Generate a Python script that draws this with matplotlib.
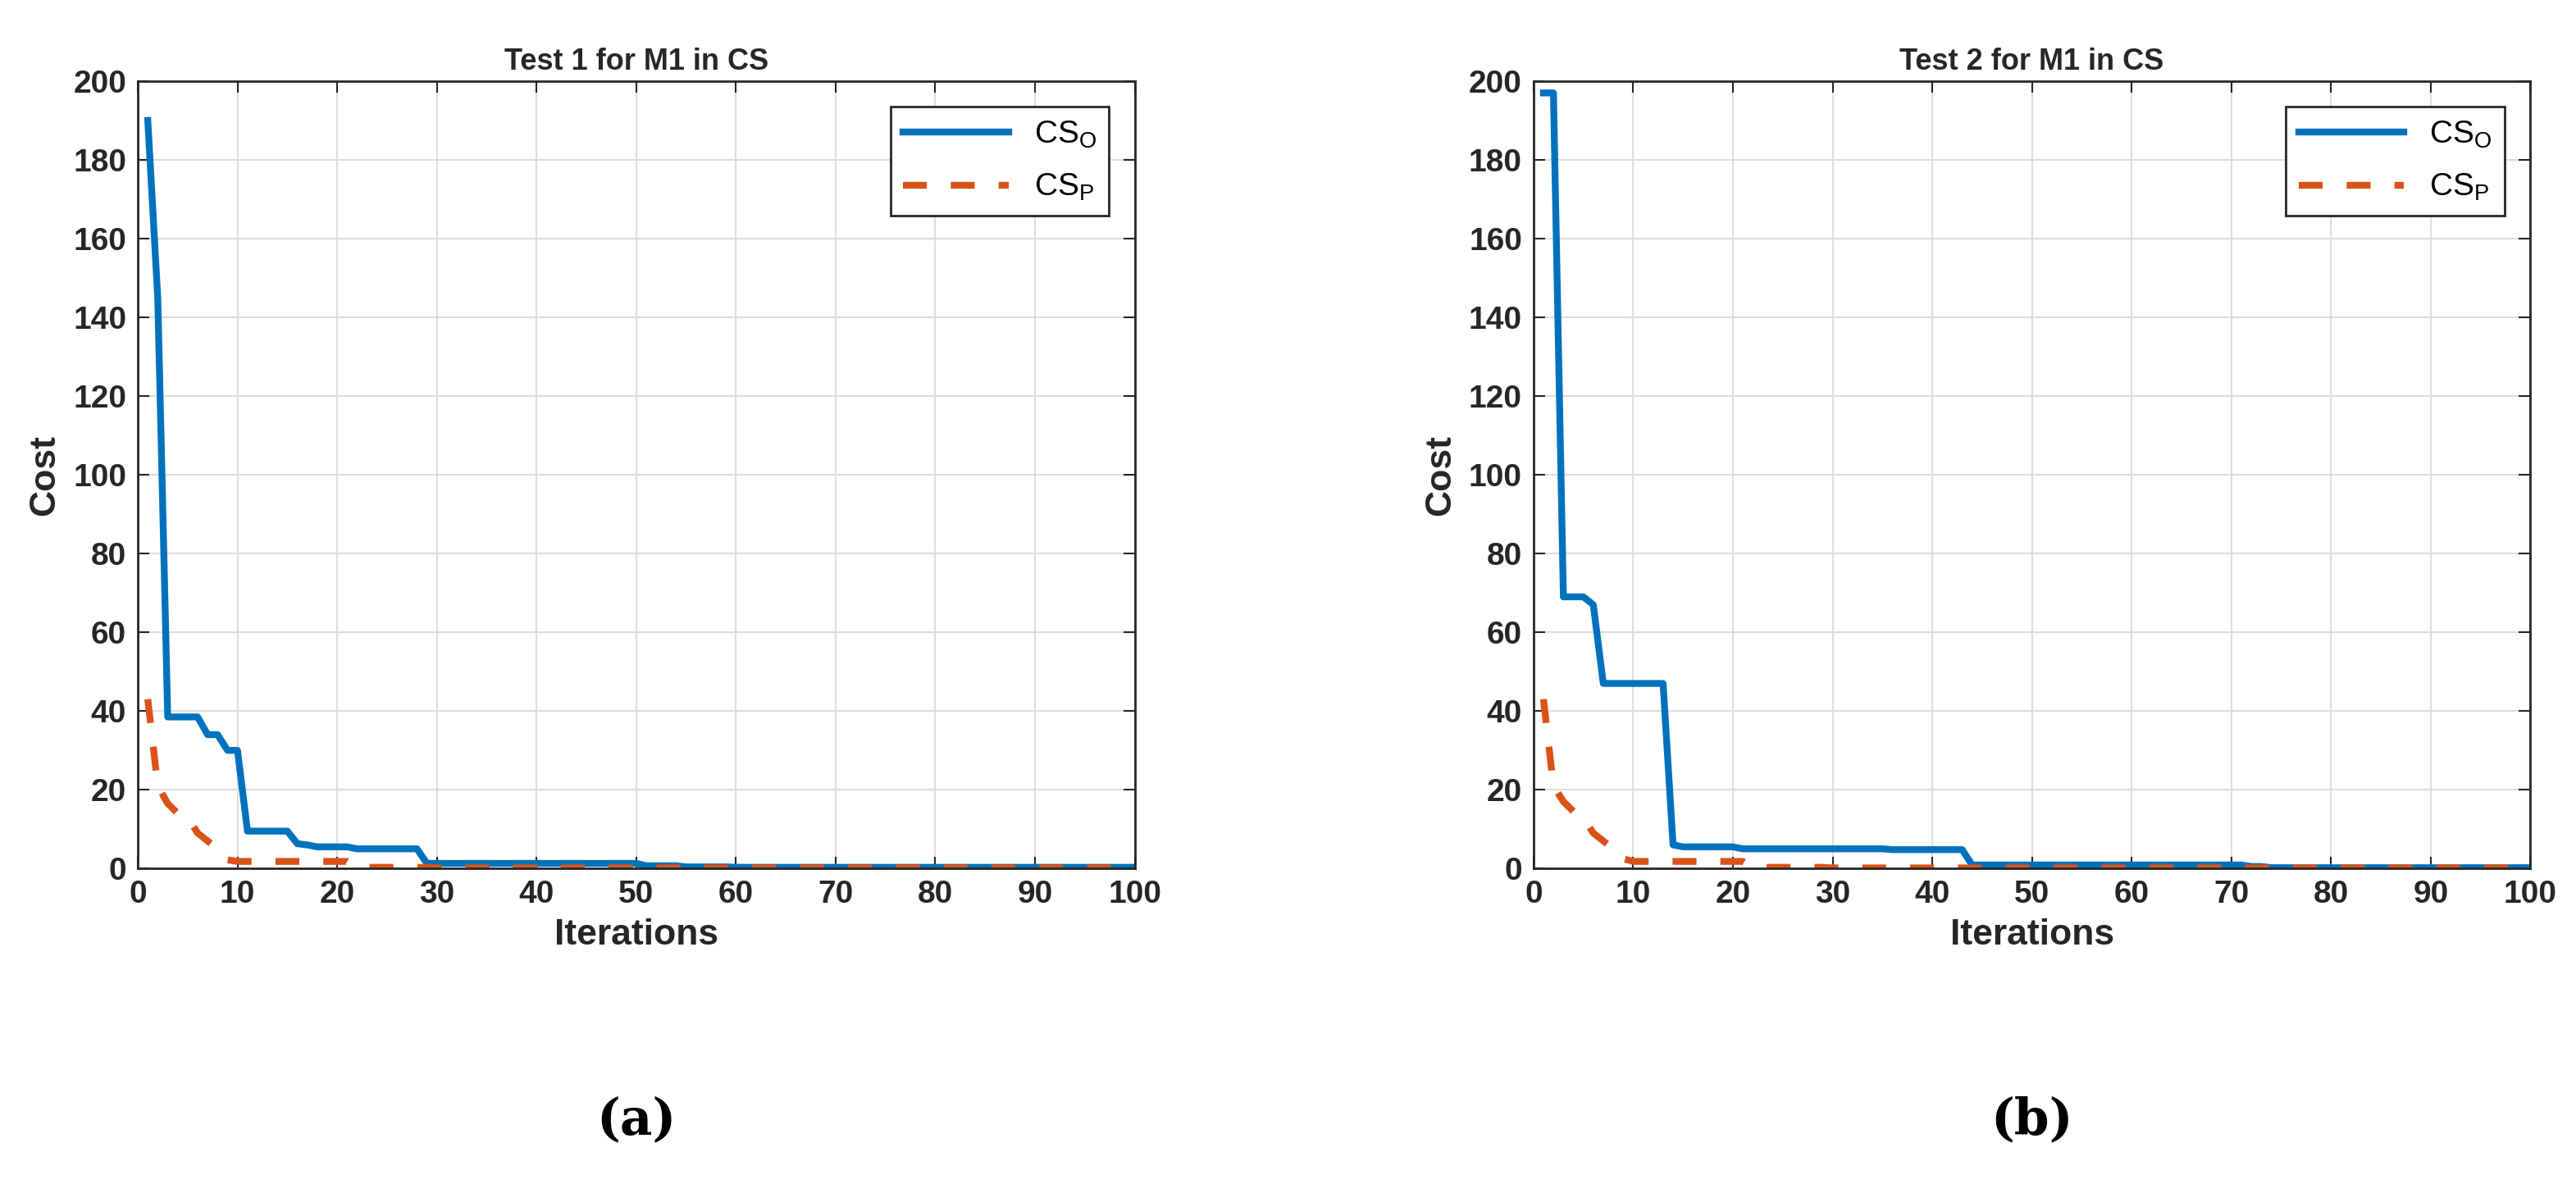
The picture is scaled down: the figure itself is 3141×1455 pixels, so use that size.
import numpy as np
import matplotlib.pyplot as plt

plt.rcParams['font.family'] = ['Liberation Sans', 'DejaVu Sans']

iters = np.arange(1, 101)

# test 1, CS original: (start iteration, value) steps
t1_o_steps = [(1, 190), (2, 145), (3, 38.5), (7, 34), (9, 30), (11, 9.5), (16, 6.3), (17, 6), (18, 5.5),
              (22, 5), (29, 1.3), (51, 0.7), (55, 0.4), (60, 0.3)]
t1_p_steps = [(1, 43), (2, 21), (3, 16.5), (4, 14), (5, 13), (6, 9), (7, 7), (8, 5), (9, 2.2), (10, 1.8),
              (22, 0.3), (30, 0.15)]
t2_o_steps = [(1, 197), (3, 69), (6, 67), (7, 47), (14, 6), (15, 5.5), (21, 5), (36, 4.8), (44, 0.9),
              (72, 0.5), (74, 0.2)]
t2_p_steps = [(1, 43), (2, 21), (3, 17), (4, 14.5), (5, 13), (6, 9), (7, 7), (8, 5), (9, 2.5), (10, 1.8),
              (22, 0.3), (30, 0.15)]


def expand(steps):
    y = np.zeros(len(iters))
    for s, v in steps:
        y[iters >= s] = v
    return y


fig = plt.figure(figsize=(31.41, 14.55), dpi=100)
axes_pos = [[0.0535, 0.272, 0.387, 0.66], [0.5953, 0.272, 0.387, 0.66]]
titles = ['Test 1 for M1 in CS', 'Test 2 for M1 in CS']
data = [(t1_o_steps, t1_p_steps), (t2_o_steps, t2_p_steps)]
captions = ['(a)', '(b)']

for pos, title, (o, p), cap in zip(axes_pos, titles, data, captions):
    ax = fig.add_axes(pos)
    ax.plot(iters, expand(o), color='#0072BD', lw=6, label='CS$_\\mathregular{O}$')
    ax.plot(iters, expand(p), color='#D95319', lw=6, ls=(0, (3.5, 3.5)), label='CS$_\\mathregular{P}$')
    ax.set_xlim(0, 100)
    ax.set_ylim(0, 200)
    ax.set_xticks(range(0, 101, 10))
    ax.set_yticks(range(0, 201, 20))
    ax.grid(True, color='#dddddd', lw=1.5)
    ax.set_axisbelow(True)
    ax.tick_params(labelsize=28, width=1.5, length=10, pad=10, direction='in', top=True, right=True,
                   color='#262626')
    for lab in ax.get_xticklabels() + ax.get_yticklabels():
        lab.set_fontweight('bold')
        lab.set_color('#262626')
    for sp in ax.spines.values():
        sp.set_linewidth(2)
        sp.set_color('#262626')
    ax.set_title(title, fontsize=26, fontweight='bold', color='#262626', pad=10)
    ax.set_xlabel('Iterations', fontsize=32, fontweight='bold', color='#262626', labelpad=8)
    ax.set_ylabel('Cost', fontsize=32, fontweight='bold', color='#262626', labelpad=10)
    leg = ax.legend(loc='upper right', fontsize=28, handlelength=3.3, fancybox=False, framealpha=1,
                    edgecolor='#262626', borderaxespad=0.8, labelspacing=0.7)
    leg.get_frame().set_linewidth(2)
    fig.text(pos[0] + pos[2] / 2, 0.04, cap, fontsize=44, family='DejaVu Serif', fontweight='bold',
             ha='center', va='bottom')

fig.savefig('out.png', dpi=100)
